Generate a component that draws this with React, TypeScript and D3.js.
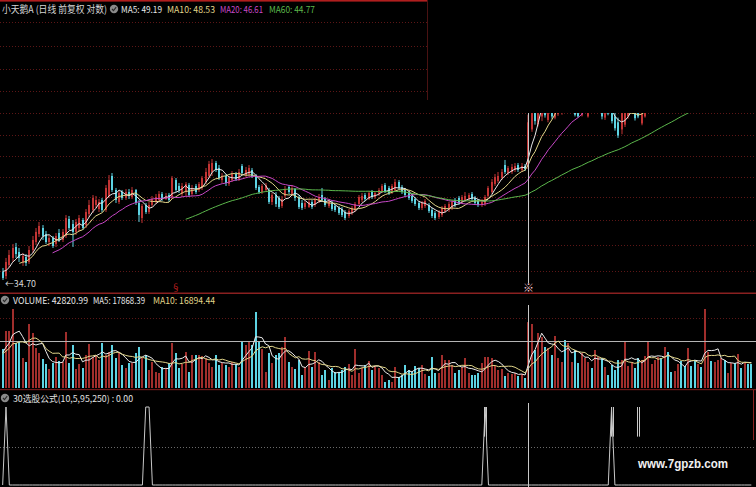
import React from 'react';
import * as d3 from 'd3';

const W = 756;
const H = 487;

// ---------- price data (daily, forward-adjusted) ----------
const opens = [
35.55,35.12,36.32,37.10,38.36,37.78,36.65,37.21,36.65,38.01,38.94,39.90,40.63,39.90,38.94,39.42,38.71,40.02,39.18,39.66,
41.76,41.13,40.15,40.63,41.63,41.00,42.40,42.91,43.57,43.04,44.24,42.91,44.78,47.58,45.60,43.97,45.32,44.51,45.32,44.64,
45.60,43.84,41.88,43.57,42.65,43.57,43.97,44.24,45.05,44.37,44.91,44.64,47.00,46.16,45.05,45.32,46.30,45.05,46.16,45.60,
45.88,46.72,47.58,48.16,49.49,48.75,47.00,47.58,46.44,47.00,47.87,47.14,49.04,47.72,47.87,48.45,47.58,46.02,45.32,45.60,
45.60,43.97,44.91,44.51,43.44,44.78,46.02,45.05,45.74,44.64,43.84,43.31,43.31,43.97,43.57,44.11,44.91,44.37,43.44,43.84,
43.44,43.18,43.04,42.65,42.14,42.53,42.91,43.70,44.24,44.91,44.37,45.32,44.64,45.05,45.46,46.30,45.88,45.32,45.60,46.72,
46.02,45.60,45.19,44.78,44.37,43.84,43.18,43.44,43.57,42.91,42.53,42.01,42.27,42.78,42.91,43.18,44.24,44.51,43.97,44.24,
44.37,45.05,44.51,44.11,43.57,43.70,44.78,45.32,46.44,46.86,47.29,49.19,48.01,48.16,48.45,49.19,48.45,49.04,48.90,54.8,
61.0,55.7,57.0,60.5,56.4,60.0,56.8,57.4,57.8,61.5,58.6,59.5,61.0,58.5,57.2,58.0,57.0,60.5,58.4,59.8,
61.0,56.8,59.8,58.5,57.0,56.0,54.8,55.6,57.0,58.2,60.0,58.0,55.8,57.0,60.5,61.3,61.8,62.5,63.6,62.5,
63.3,62.5,61.8,62.4,63.8,63.0,62.0,65.0,65.6,63.8,65.2,64.9,66.4,67.0,65.0,65.5,66.8,67.4,65.2,65.9,
68.6,67.0,67.2,66.8,68.8,68.3];
const highs = [
35.99,37.10,38.01,38.71,38.83,38.24,37.67,37.55,38.47,39.66,40.63,41.38,41.00,40.27,39.78,39.66,40.02,40.51,40.51,42.27,
42.14,41.63,41.76,42.27,41.88,43.04,44.24,44.91,44.78,44.37,44.51,46.30,47.72,48.01,45.88,45.60,45.60,45.74,45.74,46.02,
45.74,44.24,43.70,43.84,43.97,44.78,45.05,45.46,45.32,45.19,45.19,47.58,47.29,46.58,46.58,46.72,46.58,46.30,46.44,46.72,
47.58,48.75,49.80,50.10,49.80,49.19,48.01,47.87,47.58,48.30,48.16,48.60,49.34,48.90,49.19,48.75,47.87,46.30,46.44,46.58,
45.88,45.19,45.32,44.78,44.78,46.16,46.30,46.30,45.88,44.91,44.24,44.11,44.24,44.24,44.51,45.05,45.88,44.64,44.37,44.11,
43.70,43.44,43.31,42.91,43.04,43.44,43.97,44.91,45.19,45.19,45.46,45.60,45.46,45.88,46.44,46.58,46.16,46.44,47.14,47.00,
46.30,45.88,45.46,45.05,44.64,44.11,44.11,44.37,43.84,43.18,42.78,42.91,43.44,43.70,43.97,44.24,44.51,44.78,44.91,45.32,
45.19,45.32,44.78,44.37,44.37,44.91,46.16,47.14,47.87,48.16,48.60,49.95,49.04,49.34,49.49,49.49,49.49,49.34,57.30,60.0,
61.5,61.5,61.8,61.2,60.5,60.6,60.2,61.0,61.6,62.0,61.0,61.8,61.5,59.0,60.0,60.9,60.5,61.0,61.2,62.0,
61.6,60.0,60.3,59.0,57.8,56.8,58.2,59.0,60.0,60.8,60.5,58.5,59.5,60.6,62.2,62.6,63.2,64.0,64.0,63.8,
63.6,62.9,63.0,64.0,64.2,63.4,64.3,65.4,66.0,64.5,65.5,67.0,67.8,67.3,65.9,67.1,67.9,67.7,66.0,67.3,
69.0,67.8,67.5,68.2,69.0,68.6];
const lows = [
34.70,34.80,35.99,36.65,37.10,36.65,36.21,36.21,36.43,37.67,38.59,39.54,39.18,38.71,38.47,38.24,38.36,38.94,38.94,39.42,
40.39,38.36,39.78,40.15,40.39,40.63,42.01,42.53,43.18,42.65,42.65,42.65,44.51,45.32,43.84,43.70,44.24,44.24,44.37,44.37,
43.57,41.38,41.25,42.40,42.40,43.31,43.70,43.97,44.11,44.24,43.97,44.37,45.32,45.19,44.64,44.78,44.64,44.78,45.05,45.32,
45.60,46.44,47.29,47.58,48.16,47.00,46.58,46.16,46.16,46.72,46.86,46.86,47.72,47.43,47.58,47.29,45.60,45.05,45.05,45.32,
43.70,43.57,43.31,43.04,43.18,44.51,45.05,44.78,44.11,43.04,42.91,43.04,43.18,43.04,43.31,43.84,43.97,43.31,43.18,42.78,
42.65,42.27,42.01,41.63,41.88,42.27,42.65,43.44,43.97,44.11,44.24,44.37,44.37,44.78,45.19,45.19,44.91,45.05,45.32,45.60,
45.05,44.64,44.24,43.84,43.44,42.91,42.91,43.18,42.53,41.88,41.63,41.76,42.01,42.53,42.65,42.91,43.31,43.57,43.70,43.97,
44.11,44.11,43.57,43.31,43.31,43.44,44.51,45.05,46.16,46.58,47.00,47.87,47.72,47.87,48.16,48.16,48.16,48.30,48.60,54.4,
55.6,55.3,56.2,56.8,56.0,56.6,56.5,57.1,57.3,58.5,58.2,59.0,57.0,56.8,57.0,57.8,56.8,58.0,58.0,59.2,
56.5,56.4,57.2,55.8,54.6,53.4,54.0,55.2,56.6,57.9,56.3,56.7,55.5,56.8,60.0,60.8,61.2,62.0,62.2,62.0,
62.0,61.4,61.5,62.0,62.6,61.8,61.7,64.0,64.8,63.5,64.5,64.6,66.0,65.7,64.8,65.2,66.4,66.0,64.9,65.6,
68.0,66.8,66.3,66.5,68.2,67.6];
const closes = [
34.91,36.65,37.44,38.24,37.55,37.10,37.33,36.54,38.01,39.18,40.15,40.88,39.66,38.94,39.42,38.47,39.66,39.18,40.15,41.88,
40.63,40.15,41.38,41.88,40.63,42.65,43.57,44.51,44.24,43.97,42.91,45.88,47.00,45.60,44.24,45.19,44.51,45.32,44.78,45.60,
43.84,42.27,43.44,42.65,43.57,44.37,44.64,45.05,44.37,44.78,44.24,47.29,45.60,45.60,46.16,46.44,44.91,45.88,45.32,46.44,
47.29,48.16,49.34,49.49,48.45,47.29,47.58,46.58,47.29,47.87,47.14,48.16,48.01,48.45,48.75,47.58,45.88,45.32,46.16,46.30,
43.97,44.91,43.70,43.31,44.37,45.74,45.32,45.88,44.51,43.31,43.18,43.84,43.97,43.31,44.24,44.64,44.24,43.57,44.11,43.04,
42.91,42.53,42.27,41.88,42.78,43.18,43.70,44.64,44.78,44.37,45.19,44.64,45.19,45.60,46.16,45.46,45.19,46.16,46.72,45.88,
45.32,44.91,44.51,44.11,43.70,43.18,43.84,44.11,42.78,42.14,41.88,42.65,43.18,43.44,43.70,43.97,43.57,43.84,44.64,44.78,
44.91,44.37,43.84,43.57,43.97,44.64,45.88,46.72,47.43,47.58,48.16,48.16,48.75,48.90,49.04,48.45,49.04,48.60,56.00,59.2,
56.2,60.0,60.8,57.2,59.8,57.0,59.0,60.2,61.0,59.0,60.5,61.2,57.3,57.0,59.5,60.4,60.0,58.5,60.8,61.5,
57.0,59.5,57.5,56.2,55.0,53.8,57.8,58.6,59.6,60.3,56.7,57.0,59.0,60.2,61.5,62.0,62.8,63.5,62.6,63.2,
62.4,61.8,62.5,63.6,63.0,62.2,63.8,64.5,65.2,64.0,64.8,66.5,67.2,66.0,65.4,66.8,67.5,66.2,65.8,67.0,
68.2,67.4,66.6,67.8,68.5,67.9];
const priorCloses = [36.10, 35.70, 35.40, 35.90];

// ---------- volume ----------
const volumes = [
25350,37050,37050,51350,29250,29900,19500,16900,41600,35750,26000,22750,18850,15600,12350,16250,20150,17550,16900,36400,
16250,27950,12350,15600,13000,21450,28600,20150,21450,18200,29250,21450,23400,27950,19500,22750,14950,13000,16250,16250,
22750,26650,19500,21450,11700,16900,10400,9750,13650,13000,16250,29250,22750,13000,15600,23400,10400,21450,21450,21450,
20800,19500,16250,13650,21450,14950,16250,14950,13650,16900,15600,13650,30550,27950,30550,27950,49400,29900,25350,10400,
22750,16250,21450,22750,26650,33150,16900,13650,12350,18200,8450,13650,24050,13650,23400,16900,8450,11700,5200,13000,
10400,10400,11700,13650,15600,8450,25350,9750,13000,14950,17550,11700,14300,13000,8450,3900,5200,3900,13650,7150,
8450,14950,11700,10400,14300,13000,14950,9100,7800,20150,9750,9750,21450,18200,18200,14950,9750,11700,13650,19500,
9750,8450,8450,9750,16250,20150,20150,19500,14300,11700,12350,7800,9750,9100,9750,7800,9100,6500,42820.99,41600,
24700,35750,33150,26650,26000,21450,33800,19500,16900,31200,29250,16900,24700,16250,22750,19500,16900,13000,24700,20150,
19500,13650,8450,14950,11700,18200,18200,30550,14300,16900,13000,19500,18200,20800,29900,15600,18200,20150,19500,26650,
23400,10400,11050,15600,17550,14300,26000,14300,18200,15600,13650,51350,23400,17550,16900,18200,19500,18200,9750,16250,
16250,22100,13000,16250,15600,15600];
const priorVolumes = [19500, 18200, 22750, 26000, 20800, 19500, 23400, 24700, 22100];

// ---------- indicator 30选股公式 ----------
const signalSpikes = [1, 43, 44, 145, 183];
const signalSticks = [145, 183, 191];

// ---------- axes / labels ----------
const gridPrices = [75.9, 70.6, 65.8, 61.6, 57.6, 53.9, 50.6, 47.4, 44.6, 41.6, 38.6, 35.7];
const maPeriods = [5, 10, 20, 60];
const maLabels = ['MA5', 'MA10', 'MA20', 'MA60'];
const maValues = ['49.19', '48.53', '46.61', '44.77'];
const volLabels = ['VOLUME', 'MA5', 'MA10'];
const volValues = ['42820.99', '17868.39', '16894.44'];
const volRefLevels = [30550];
const cursorIndex = 158;
const upMarkIndex = 52;
const lowLabel = '34.70';
const title = '小天鹅A (日线 前复权 对数)';
const indicatorTitle = '30选股公式(10,5,95,250) : 0.00';

const MA_COLORS = ['#e8e8e8', '#e2d68a', '#c848c8', '#5cb84c'];
const RED = '#c23434';
const RED_VOL = '#a02e2c';
const CYAN = '#5dd3e3';
const FONT = "'Noto Sans CJK SC', 'Noto Sans', sans-serif";

function movingAvg(prior: number[], vals: number[], n: number): (number | null)[] {
  const all = prior.concat(vals);
  const off = prior.length;
  return vals.map((_, i) => {
    const end = i + off;
    if (end - n + 1 < 0) return null;
    let s = 0;
    for (let k = end - n + 1; k <= end; k++) s += all[k];
    return s / n;
  });
}

function Badge({ x, y }: { x: number; y: number }) {
  return (
    <g>
      <circle cx={x} cy={y} r={4.2} fill="#8a8a8a" />
      <path d={`M${x - 2},${y} L${x - 0.5},${y + 1.6} L${x + 2.2},${y - 1.8}`} stroke="#2a2a2a" strokeWidth={1.1} fill="none" />
    </g>
  );
}

export default function App() {
  const N = closes.length;
  const x = d3.scaleBand<number>().domain(d3.range(N)).range([1, 753]);
  const cx = (i: number) => (x(i) as number) + x.bandwidth() / 2;
  const yP = d3.scaleLog().domain([34.7, 57.6]).range([280, 113]);
  const yV = d3.scaleLinear().domain([0, 57200]).range([388, 300]);
  const yI = d3.scaleLinear().domain([0, 100]).range([485, 407]);

  const priceMAs = maPeriods.map((p) => movingAvg(priorCloses, closes, p));
  const volMAs = [5, 10].map((p) => movingAvg(priorVolumes, volumes, p));

  const pLine = d3.line<number | null>()
    .defined((d) => d != null)
    .x((_, i) => cx(i))
    .y((d) => yP(d as number));
  const vLine = d3.line<number | null>()
    .defined((d) => d != null)
    .x((_, i) => cx(i))
    .y((d) => yV(d as number));
  const indicator = closes.map((_, i) => (signalSpikes.includes(i) ? 100 : 0));
  const iLine = d3.line<number>().x((_, i) => cx(i)).y((d) => yI(d));

  const left = (i: number) => Math.round(cx(i)) - 1;
  const cursorX = Math.round(cx(cursorIndex)) + 0.5;

  return (
    <svg width={W} height={H} style={{ position: 'fixed', left: 0, top: 0, background: '#000' }}
      xmlns="http://www.w3.org/2000/svg">
      <rect x={0} y={0} width={W} height={H} fill="#000" />

      {/* price grid */}
      {gridPrices.map((p, k) => (
        <line key={'g' + k} x1={0} x2={W} y1={Math.round(yP(p)) + 0.5} y2={Math.round(yP(p)) + 0.5}
          stroke="#5c1616" strokeWidth={1} strokeDasharray="1,2" />
      ))}

      {/* candles */}
      {closes.map((c, i) => {
        const o = opens[i];
        const up = c >= o;
        const col = up ? RED : CYAN;
        const top = yP(Math.max(o, c));
        const bot = yP(Math.min(o, c));
        const lx = left(i);
        return (
          <g key={'c' + i}>
            <rect x={lx + 0.5} y={yP(highs[i])} width={1} height={Math.max(1, yP(lows[i]) - yP(highs[i]))} fill={col} />
            <rect x={lx} y={top} width={2} height={Math.max(1, bot - top)} fill={col} />
          </g>
        );
      })}

      {/* price moving averages */}
      {priceMAs.map((m, k) => (
        <path key={'ma' + k} d={pLine(m) || ''} fill="none" stroke={MA_COLORS[k]} strokeWidth={1} />
      ))}

      {/* covered upper-right region */}
      <rect x={428} y={0} width={W - 428} height={113} fill="#000" />
      <rect x={0} y={0} width={427} height={1.6} fill="#b01e1e" />
      <line x1={427.5} x2={427.5} y1={0} y2={100} stroke="#4a1212" strokeWidth={1} />

      {/* low label */}
      <text x={5} y={287} fontFamily={FONT} fontSize={9} fill="#d8d8d8" textLength={31} lengthAdjust="spacingAndGlyphs">
        {'←' + lowLabel}
      </text>

      {/* header */}
      <text x={2} y={13} fontFamily={FONT} fontSize={10} fill="#d6d6d6" textLength={105} lengthAdjust="spacingAndGlyphs">{title}</text>
      <Badge x={114} y={9} />
      {maLabels.map((l, k) => {
        const xs = [121, 167, 220, 269];
        const ws = [41, 48, 43, 46];
        return (
          <text key={'h' + k} x={xs[k]} y={13} fontFamily={FONT} fontSize={9} fill={MA_COLORS[k]}
            textLength={ws[k]} lengthAdjust="spacingAndGlyphs">{`${l}: ${maValues[k]}`}</text>
        );
      })}

      {/* pane separators */}
      <rect x={0} y={292.5} width={W} height={1.5} fill="#8a2020" />
      <line x1={0} x2={W} y1={318.5} y2={318.5} stroke="#5c1616" strokeDasharray="1,2" />
      <rect x={0} y={389} width={W} height={1.2} fill="#6a1818" />

      {/* volume header */}
      <Badge x={5} y={300} />
      {volLabels.map((l, k) => {
        const xs = [13, 93, 153];
        const ws = [75, 52, 62];
        const cols = ['#e8e8e8', '#e8e8e8', '#e2d68a'];
        return (
          <text key={'vh' + k} x={xs[k]} y={304} fontFamily={FONT} fontSize={9} fill={cols[k]}
            textLength={ws[k]} lengthAdjust="spacingAndGlyphs">{`${l}: ${volValues[k]}`}</text>
        );
      })}

      {/* volume bars */}
      {volumes.map((v, i) => {
        const up = closes[i] >= opens[i];
        const yTop = yV(v);
        return <rect key={'v' + i} x={left(i)} y={yTop} width={2} height={388 - yTop} fill={up ? RED_VOL : CYAN} />;
      })}
      {volRefLevels.map((v, k) => (
        <line key={'vr' + k} x1={0} x2={W} y1={Math.round(yV(v)) + 0.5} y2={Math.round(yV(v)) + 0.5} stroke="#b4b4b4" strokeWidth={1} />
      ))}
      {volMAs.map((m, k) => (
        <path key={'vma' + k} d={vLine(m) || ''} fill="none" stroke={k === 0 ? '#ececec' : '#e2d68a'} strokeWidth={1} />
      ))}

      {/* indicator pane */}
      <Badge x={5} y={398} />
      <text x={13} y={402} fontFamily={FONT} fontSize={9} fill="#e0e0e0" textLength={120} lengthAdjust="spacingAndGlyphs">{indicatorTitle}</text>
      <line x1={0} x2={W} y1={447.5} y2={447.5} stroke="#6a6a6a" strokeDasharray="1,2" />
      <path d={iLine(indicator) || ''} fill="none" stroke="#c8c8c8" strokeWidth={1} />
      {signalSticks.map((i) => (
        <g key={'st' + i}>
          <line x1={Math.round(cx(i)) - 0.5} x2={Math.round(cx(i)) - 0.5} y1={yI(100)} y2={yI(62)} stroke="#c8c8c8" />
          <line x1={Math.round(cx(i)) + 1.5} x2={Math.round(cx(i)) + 1.5} y1={yI(100)} y2={yI(62)} stroke="#c8c8c8" />
        </g>
      ))}
      <line x1={753.5} x2={753.5} y1={390} y2={440} stroke="#8a2020" />

      {/* cursor */}
      <line x1={cursorX} x2={cursorX} y1={113} y2={283} stroke="#c8c8c8" />
      <line x1={cursorX} x2={cursorX} y1={305} y2={388} stroke="#c8c8c8" />
      <line x1={cursorX} x2={cursorX} y1={403} y2={487} stroke="#c8c8c8" />
      <text x={cursorX} y={292} textAnchor="middle" fontFamily={FONT} fontSize={11} fill="#f2c4cc">※</text>
      <text x={cx(upMarkIndex)} y={291} textAnchor="middle" fontFamily={FONT} fontSize={9} fill="#c82020">§</text>

      {/* watermark */}
      <text x={638} y={468} fontFamily="'Liberation Sans', Arial, sans-serif" fontWeight="bold" fontSize={12.5}
        fill="#f0f0f0" textLength={90} lengthAdjust="spacingAndGlyphs">www.7gpzb.com</text>
    </svg>
  );
}
